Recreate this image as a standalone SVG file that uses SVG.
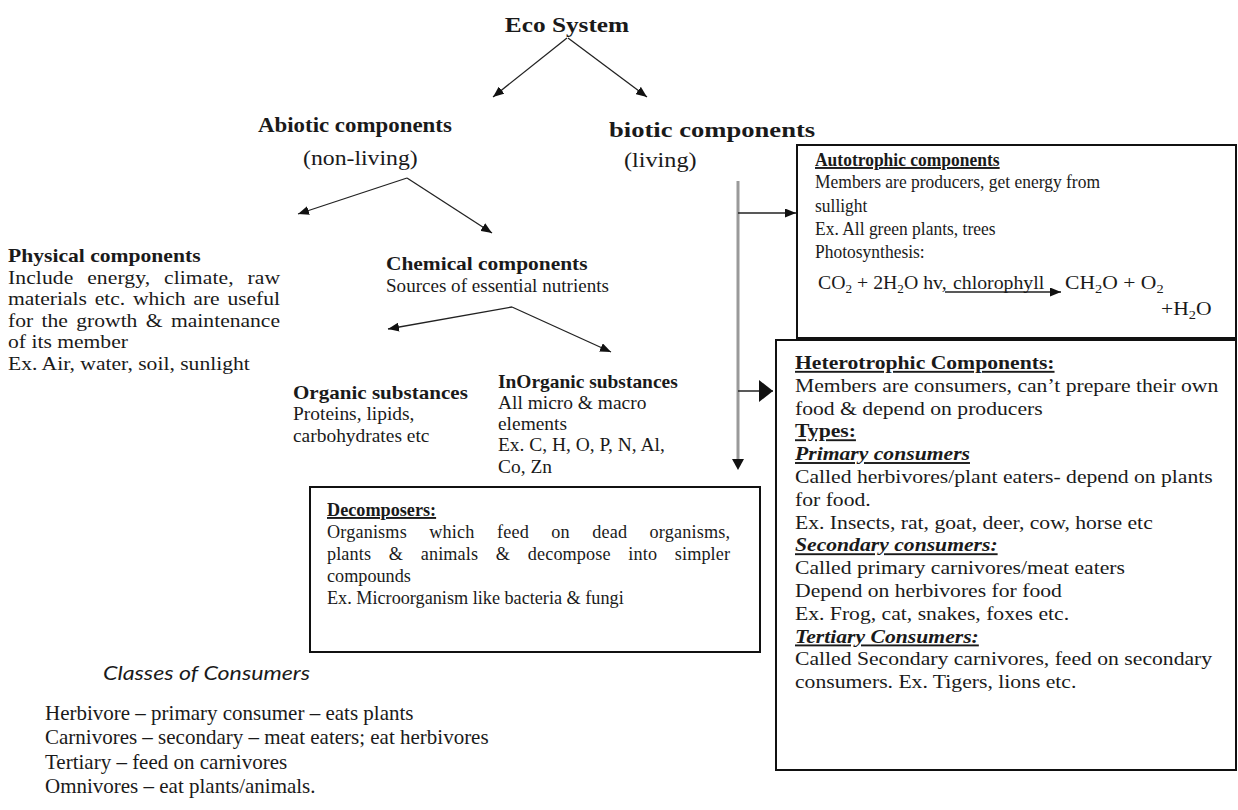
<svg xmlns="http://www.w3.org/2000/svg" width="1238" height="810" viewBox="0 0 1238 810">
<defs>
<style>
.t{font-family:"Liberation Serif","Times New Roman",serif;fill:#1a1a1a}
.h{font-size:22px;font-weight:bold}
.hr{font-size:22px}
.b{font-size:18px}
.a{font-size:19px}
.d{font-size:19px}
.b19{font-size:19px}
.bd{font-weight:bold}
.u{text-decoration:underline}
.bi{font-weight:bold;font-style:italic;text-decoration:underline}
.sub{font-size:12px}
.ln{stroke:#222;stroke-width:1.3;fill:none}
.box{fill:#fff;stroke:#111;stroke-width:2}
</style>
<marker id="ah" markerUnits="userSpaceOnUse" markerWidth="11" markerHeight="9" refX="11" refY="4.5" orient="auto"><path d="M0,0 L11,4.5 L0,9 z" fill="#111"/></marker>
<marker id="big" markerUnits="userSpaceOnUse" markerWidth="14" markerHeight="22" refX="14" refY="11" orient="auto"><path d="M0,0 L14,11 L0,22 z" fill="#111"/></marker>
</defs>
<rect width="1238" height="810" fill="#fff"/>

<g id="connectors">
<line class="ln" x1="567" y1="38" x2="493" y2="97" marker-end="url(#ah)"/>
<line class="ln" x1="568" y1="38" x2="647" y2="97" marker-end="url(#ah)"/>
<line class="ln" x1="407" y1="178" x2="298" y2="214" marker-end="url(#ah)"/>
<line class="ln" x1="407" y1="178" x2="492" y2="233" marker-end="url(#ah)"/>
<line class="ln" x1="512" y1="307" x2="388" y2="329" marker-end="url(#ah)"/>
<line class="ln" x1="512" y1="307" x2="611" y2="352" marker-end="url(#ah)"/>
<line x1="738" y1="181" x2="738" y2="460" stroke="#9a9a9a" stroke-width="3"/>
<path d="M732,459 L744,459 L738,470 z" fill="#111"/>
<line class="ln" x1="738" y1="213" x2="796" y2="213" marker-end="url(#ah)"/>
<line class="ln" x1="738" y1="391" x2="773" y2="391" stroke-width="2" marker-end="url(#big)"/>
</g>

<g id="eco" transform="translate(567,0) scale(1.15,1)">
<text class="t h" x="0" y="32" text-anchor="middle">Eco System</text>
</g>

<g id="abiotic">
<text class="t h" transform="translate(258,0) scale(1.04,1)" x="0" y="132">Abiotic components</text>
<text class="t hr" transform="translate(303,0) scale(1.08,1)" x="0" y="165">(non-living)</text>
</g>

<g id="biotic">
<text class="t h" transform="translate(609,0) scale(1.21,1)" x="0" y="137">biotic components</text>
<text class="t hr" transform="translate(624,0) scale(1.1,1)" x="0" y="167">(living)</text>
</g>

<g id="physical" transform="translate(8,0) scale(1.2,1)">
<text class="t b bd" x="0" y="262">Physical components</text>
<text class="t b" x="0" y="284" word-spacing="7" textLength="226.7" lengthAdjust="spacing">Include energy, climate, raw</text>
<text class="t b" x="0" y="305.5" word-spacing="2" textLength="226.7" lengthAdjust="spacing">materials etc. which are useful</text>
<text class="t b" x="0" y="327" word-spacing="2.5" textLength="226.7" lengthAdjust="spacing">for the growth &amp; maintenance</text>
<text class="t b" x="0" y="348.5">of its member</text>
<text class="t b" x="0" y="370">Ex. Air, water, soil, sunlight</text>
</g>

<g id="chemical">
<text class="t b bd" transform="translate(386,0) scale(1.19,1)" x="0" y="270">Chemical components</text>
<text class="t b" transform="translate(386,0) scale(1.06,1)" x="0" y="292">Sources of essential nutrients</text>
</g>

<g id="organic">
<text class="t b bd" transform="translate(293,0) scale(1.17,1)" x="0" y="399">Organic substances</text>
<g transform="translate(293,0) scale(1.08,1)">
<text class="t b" x="0" y="420">Proteins, lipids,</text>
<text class="t b" x="0" y="442">carbohydrates etc</text>
</g>
</g>

<g id="inorganic">
<text class="t b bd" transform="translate(498,0) scale(1.08,1)" x="0" y="388">InOrganic substances</text>
<g transform="translate(498,0) scale(1.08,1)">
<text class="t b" x="0" y="409">All micro &amp; macro</text>
<text class="t b" x="0" y="430">elements</text>
<text class="t b" x="0" y="451">Ex. C, H, O, P, N, Al,</text>
<text class="t b" x="0" y="473">Co, Zn</text>
</g>
</g>

<g id="autotrophic">
<rect class="box" x="797" y="145" width="439" height="193"/>
<g transform="translate(815,0) scale(0.92,1)">
<text class="t a bd u" x="0" y="166">Autotrophic components</text>
<text class="t a" x="0" y="188">Members are producers, get energy from</text>
<text class="t a" x="0" y="212">sullight</text>
<text class="t a" x="0" y="235">Ex. All green plants, trees</text>
<text class="t a" x="0" y="258">Photosynthesis:</text>
</g>
<g transform="translate(818,0) scale(1.1,1)">
<text class="t b" x="0" y="289">CO<tspan class="sub" dy="4">2</tspan><tspan dy="-4"> + 2H</tspan><tspan class="sub" dy="4">2</tspan><tspan dy="-4">O hv,</tspan></text>
</g>
<line class="ln" x1="945" y1="292" x2="1061" y2="292" marker-end="url(#ah)"/>
<g transform="translate(953,0) scale(1.1,1)">
<text class="t b" x="0" y="289">chlorophyll</text>
</g>
<g transform="translate(1065,0) scale(1.2,1)">
<text class="t b" x="0" y="289">CH<tspan class="sub" dy="4">2</tspan><tspan dy="-4">O + O</tspan><tspan class="sub" dy="4">2</tspan></text>
<text class="t b" x="80" y="315">+H<tspan class="sub" dy="4">2</tspan><tspan dy="-4">O</tspan></text>
</g>
</g>

<g id="heterotrophic">
<rect class="box" x="776" y="340" width="460" height="430"/>
<g transform="translate(795,0) scale(1.14,1)">
<text class="t b19 bd u" x="0" y="369">Heterotrophic Components:</text>
<text class="t b19" x="0" y="391.8">Members are consumers, can’t prepare their own</text>
<text class="t b19" x="0" y="414.6">food &amp; depend on producers</text>
<text class="t b19 bd u" x="0" y="437.4">Types:</text>
<text class="t b19 bi" x="0" y="460.2">Primary consumers</text>
<text class="t b19" x="0" y="483">Called herbivores/plant eaters- depend on plants</text>
<text class="t b19" x="0" y="505.8">for food.</text>
<text class="t b19" x="0" y="528.6">Ex. Insects, rat, goat, deer, cow, horse etc</text>
<text class="t b19 bi" x="0" y="551.4">Secondary consumers:</text>
<text class="t b19" x="0" y="574.2">Called primary carnivores/meat eaters</text>
<text class="t b19" x="0" y="597">Depend on herbivores for food</text>
<text class="t b19" x="0" y="619.8">Ex. Frog, cat, snakes, foxes etc.</text>
<text class="t b19 bi" x="0" y="642.6">Tertiary Consumers:</text>
<text class="t b19" x="0" y="665.4">Called Secondary carnivores, feed on secondary</text>
<text class="t b19" x="0" y="688.2">consumers. Ex. Tigers, lions etc.</text>
</g>
</g>

<g id="decomposers">
<rect class="box" x="310" y="487" width="450" height="165"/>
<g transform="translate(327,0) scale(0.958,1)">
<text class="t d bd u" x="0" y="516">Decomposers:</text>
<text class="t d" x="0" y="538" word-spacing="18.5" textLength="420.7" lengthAdjust="spacing">Organisms which feed on dead organisms,</text>
<text class="t d" x="0" y="560" word-spacing="13.6" textLength="420.7" lengthAdjust="spacing">plants &amp; animals &amp; decompose into simpler</text>
<text class="t d" x="0" y="582">compounds</text>
<text class="t d" x="0" y="604">Ex. Microorganism like bacteria &amp; fungi</text>
</g>
</g>

<g id="classes">
<text x="103" y="680" font-family="Lato, 'Open Sans', sans-serif" font-style="italic" font-size="20" fill="#1a1a1a" textLength="207" lengthAdjust="spacingAndGlyphs">Classes of Consumers</text>
<g transform="translate(45,0) scale(1.05,1)">
<text class="t" font-size="20" x="0" y="720">Herbivore – primary consumer – eats plants</text>
<text class="t" font-size="20" x="0" y="744.5">Carnivores – secondary – meat eaters; eat herbivores</text>
<text class="t" font-size="20" x="0" y="769">Tertiary – feed on carnivores</text>
<text class="t" font-size="20" x="0" y="793.5">Omnivores – eat plants/animals.</text>
</g>
</g>
</svg>
